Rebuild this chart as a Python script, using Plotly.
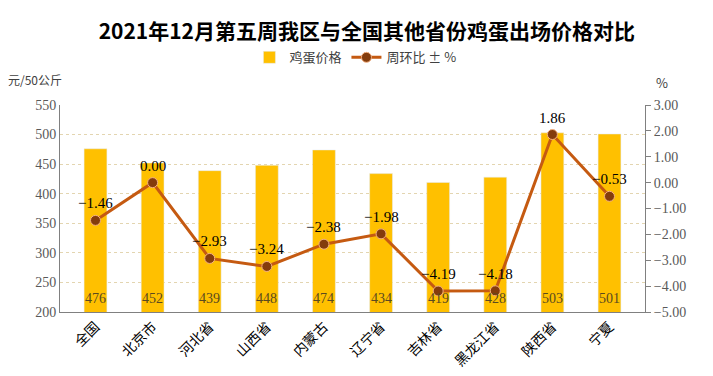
import plotly.graph_objects as go

categories = ["全国", "北京市", "河北省", "山西省", "内蒙古", "辽宁省", "吉林省", "黑龙江省", "陕西省", "宁夏"]
prices = [476, 452, 439, 448, 474, 434, 419, 428, 503, 501]
wow = [-1.46, 0.00, -2.93, -3.24, -2.38, -1.98, -4.19, -4.18, 1.86, -0.53]
right_ticks = [-5, -4, -3, -2, -1, 0, 1, 2, 3]

def fmt(v):
    return f"{v:.2f}".replace("-", "\u2212")

serif = "Liberation Serif, DejaVu Serif, serif"
cjk = "Noto Sans CJK SC"

fig = go.Figure()
fig.add_trace(go.Bar(
    x=categories, y=prices, name="鸡蛋价格",
    marker=dict(color="#FFC000"),
    width=0.4,
))
fig.add_trace(go.Scatter(
    x=categories, y=wow, name="周环比 ± %", yaxis="y2",
    mode="lines+markers",
    line=dict(color="#C55A11", width=3),
    marker=dict(color="#843C0C", size=10, line=dict(color="#F4B183", width=1)),
))

annotations = [
    dict(text=str(p), x=c, xref="x", y=0, yref="y domain", yanchor="bottom", yshift=4,
         showarrow=False, font=dict(family=serif, size=14, color="#5A4A20"))
    for c, p in zip(categories, prices)
]
annotations += [
    dict(text=fmt(v), x=c, xref="x", y=v, yref="y2", yanchor="bottom", yshift=7,
         showarrow=False, font=dict(family=serif, size=15, color="#000000"))
    for c, v in zip(categories, wow)
]
annotations += [
    dict(text="元/50公斤", x=0.0, xref="paper", xanchor="right", xshift=4,
         y=1.0, yref="paper", yanchor="bottom", yshift=15, showarrow=False,
         font=dict(family=cjk, size=12, color="#404040")),
    dict(text="%", x=1.0, xref="paper", xanchor="left", xshift=9,
         y=1.0, yref="paper", yanchor="bottom", yshift=11, showarrow=False,
         font=dict(family=cjk, size=13, color="#404040")),
]

fig.update_layout(
    width=705, height=368,
    margin=dict(l=52, r=68, t=97, b=64, autoexpand=False),
    paper_bgcolor="white", plot_bgcolor="white",
    title=dict(text="<b>2021年12月第五周我区与全国其他省份鸡蛋出场价格对比</b>",
               x=0.509, xanchor="center", y=0.935, yanchor="middle",
               font=dict(family=cjk, size=21, color="#000000")),
    showlegend=True,
    legend=dict(orientation="h", x=0.505, xanchor="center", y=1.23, yanchor="middle",
                font=dict(family=cjk, size=13, color="#404040"),
                traceorder="normal"),
    xaxis=dict(tickangle=-45, showline=True, linecolor="#808080", linewidth=1,
               tickfont=dict(family=cjk, size=14, color="#000000"),
               ticks="", automargin=False),
    yaxis=dict(range=[200, 550], dtick=50, showline=True, linecolor="#808080",
               showgrid=True, gridcolor="#E3D5B0", griddash="dot", gridwidth=1,
               tickfont=dict(family=serif, size=14, color="#595959"),
               zeroline=False, ticks="", automargin=False),
    yaxis2=dict(range=[-5, 3], overlaying="y", side="right",
                showline=True, linecolor="#808080", showgrid=False,
                tickmode="array", tickvals=right_ticks, ticktext=[fmt(v) for v in right_ticks],
                ticks="outside", ticklen=5, tickcolor="#808080",
                tickfont=dict(family=serif, size=14, color="#595959"),
                zeroline=False, automargin=False),
    annotations=annotations,
)

fig.write_html("out.html")
